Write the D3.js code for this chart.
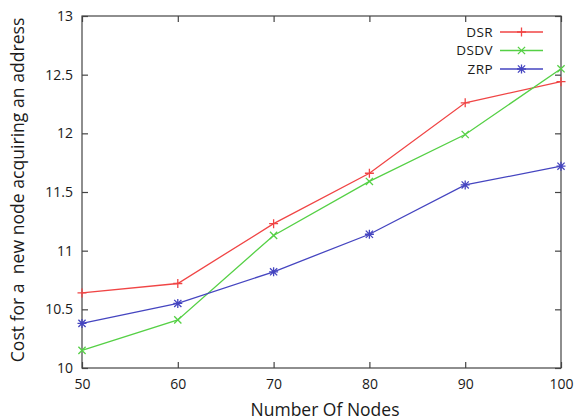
<!DOCTYPE html>
<html><head><meta charset="utf-8">
<script src="https://cdn.jsdelivr.net/npm/d3@7"></script>
<style>body{margin:0;background:#fff}svg{display:block}</style>
</head><body>
<script>
const nodes = [50, 60, 70, 80, 90, 100];
const dsr  = [10.64, 10.72, 11.23, 11.66, 12.26, 12.44];
const dsdv = [10.15, 10.41, 11.13, 11.59, 11.99, 12.55];
const zrp  = [10.38, 10.55, 10.82, 11.14, 11.56, 11.72];
const seriesNames = ["DSR", "DSDV", "ZRP"];
const yTicks = [10, 10.5, 11, 11.5, 12, 12.5, 13];
const xTicks = [50, 60, 70, 80, 90, 100];

const W = 580, H = 420;
const m = {left: 82, right: 19, top: 16, bottom: 52};
const svg = d3.select("body").append("svg").attr("width", W).attr("height", H);
const font = "'Open Sans', 'Noto Sans', sans-serif";

const x = d3.scaleLinear().domain([50, 100]).range([m.left, W - m.right]);
const y = d3.scaleLinear().domain([10, 13]).range([H - m.bottom, m.top]);

const axisColor = "#444";
const tl = 6;
// frame
svg.append("rect").attr("x", x(50)).attr("y", y(13)).attr("width", x(100) - x(50)).attr("height", y(10) - y(13))
  .attr("fill", "none").attr("stroke", axisColor).attr("stroke-width", 1.2);

// axes with inward ticks
const gx = svg.append("g").attr("transform", `translate(0,${y(10)})`)
  .call(d3.axisBottom(x).tickValues(xTicks).tickSize(-tl).tickPadding(11).tickFormat(d3.format("d")));
const gxt = svg.append("g").attr("transform", `translate(0,${y(13)})`)
  .call(d3.axisTop(x).tickValues(xTicks).tickSize(-tl).tickFormat(""));
const gy = svg.append("g").attr("transform", `translate(${x(50)},0)`)
  .call(d3.axisLeft(y).tickValues(yTicks).tickSize(-tl).tickPadding(9).tickFormat(d => String(d)));
const gyr = svg.append("g").attr("transform", `translate(${x(100)},0)`)
  .call(d3.axisRight(y).tickValues(yTicks).tickSize(-tl).tickFormat(""));
[gx, gxt, gy, gyr].forEach(g => {
  g.select(".domain").remove();
  g.selectAll("line").attr("stroke", axisColor).attr("stroke-width", 1.2);
  g.selectAll("text").attr("font-family", font).attr("font-size", 14).attr("fill", "#1a1a1a");
});

// titles
svg.append("text").attr("x", 325).attr("y", 416).attr("text-anchor", "middle")
  .attr("font-family", font).attr("font-size", 17.5).attr("fill", "#1a1a1a").text("Number Of Nodes");
svg.append("text").attr("transform", `translate(24,${190}) rotate(-90)`)
  .attr("text-anchor", "middle").attr("font-family", font).attr("font-size", 17.6).attr("fill", "#1a1a1a")
  .style("white-space", "pre").text("Cost for a  new node acquiring an address");

const colors = ["#f04545", "#55d045", "#4545c0"];
const data = [dsr, dsdv, zrp];
const ms = 4.5;
function marker(g, cx, cy, i, col) {
  const p = d3.path();
  if (i === 0 || i === 2) { p.moveTo(cx - ms, cy); p.lineTo(cx + ms, cy); p.moveTo(cx, cy - ms); p.lineTo(cx, cy + ms); }
  if (i === 1 || i === 2) { const d = ms * 0.8; p.moveTo(cx - d, cy - d); p.lineTo(cx + d, cy + d); p.moveTo(cx - d, cy + d); p.lineTo(cx + d, cy - d); }
  g.append("path").attr("d", p.toString()).attr("stroke", col).attr("stroke-width", 1.3).attr("fill", "none");
}
const line = d3.line().x((d, j) => x(nodes[j])).y(d => y(d));
data.forEach((vals, i) => {
  const g = svg.append("g");
  g.append("path").datum(vals).attr("d", line).attr("fill", "none").attr("stroke", colors[i]).attr("stroke-width", 1.3);
  vals.forEach((v, j) => marker(g, x(nodes[j]), y(v), i, colors[i]));
});

// legend
const ly = [32, 50.5, 69];
seriesNames.forEach((n, i) => {
  const g = svg.append("g");
  g.append("text").attr("x", 493).attr("y", ly[i]).attr("dy", "0.36em").attr("text-anchor", "end")
    .attr("font-family", font).attr("font-size", 13.5).attr("letter-spacing", 0.4).attr("fill", "#1a1a1a").text(n);
  g.append("line").attr("x1", 500).attr("x2", 543).attr("y1", ly[i]).attr("y2", ly[i])
    .attr("stroke", colors[i]).attr("stroke-width", 1.3);
  marker(g, 521.5, ly[i], i, colors[i]);
});
</script>
</body></html>
